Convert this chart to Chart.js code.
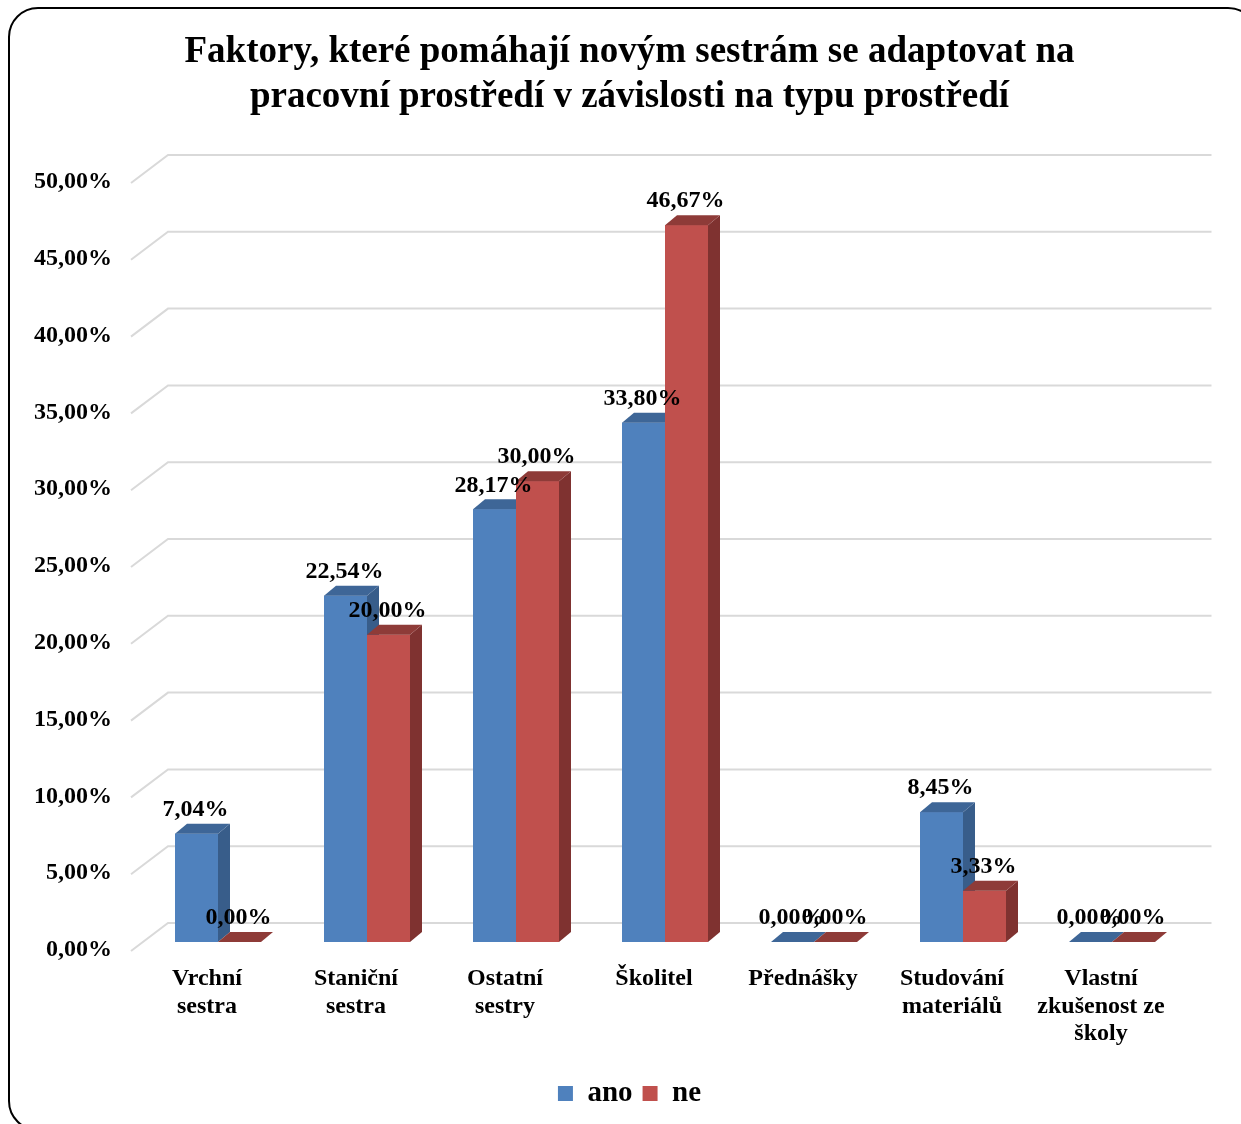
<!DOCTYPE html>
<html><head><meta charset="utf-8">
<script src="https://cdn.jsdelivr.net/npm/chart.js@4.4.1/dist/chart.umd.min.js"></script>
<style>
html,body{margin:0;padding:0;background:#fff;}
#wrap{position:relative;width:1241px;height:1124px;overflow:hidden;background:#fff;}
#frame{position:absolute;left:8px;top:7px;width:1250px;height:1124px;border:2px solid #000;border-radius:30px;box-sizing:border-box;}
#c{position:absolute;left:0;top:0;}
</style></head><body>
<div id="wrap"><div id="frame"></div><canvas id="c" width="1241" height="1124"></canvas></div>
<script>
const titleLines = ['Faktory, které pomáhají novým sestrám se adaptovat na', 'pracovní prostředí v závislosti na typu prostředí'];
const categories = [['Vrchní','sestra'],['Staniční','sestra'],['Ostatní','sestry'],['Školitel'],['Přednášky'],['Studování','materiálů'],['Vlastní','zkušenost ze','školy']];
const seriesNames = ['ano','ne'];
const anoValues = [7.04, 22.54, 28.17, 33.80, 0.00, 8.45, 0.00];
const neValues = [0.00, 20.00, 30.00, 46.67, 0.00, 3.33, 0.00];
const yTicks = [0, 5, 10, 15, 20, 25, 30, 35, 40, 45, 50];

const FONT = 'Liberation Serif, Times New Roman, serif';
const fmt = v => v.toFixed(2).replace('.', ',') + '%';

const faceColors = [
  {front:'#4F81BD', side:'#385D8A', top:'#3E6697'},
  {front:'#C0504D', side:'#7F3230', top:'#8E3B38'}
];
const DX = 12, DY = -10;

const gridPlugin = {
  id: 'grid3d',
  beforeDatasetsDraw(chart) {
    const ctx = chart.ctx, ys = chart.scales.y, a = chart.chartArea;
    ctx.save();
    ctx.strokeStyle = '#D9D9D9';
    ctx.lineWidth = 2;
    yTicks.forEach(v => {
      const y = ys.getPixelForValue(v);
      ctx.beginPath();
      ctx.moveTo(a.left - 12.5, y + 9);
      ctx.lineTo(a.left + 24.5, y - 19);
      ctx.lineTo(a.right + 25, y - 19);
      ctx.stroke();
    });
    ctx.restore();
  }
};

const barsPlugin = {
  id: 'bars3d',
  afterDatasetsDraw(chart) {
    const ctx = chart.ctx;
    const metas = [chart.getDatasetMeta(0), chart.getDatasetMeta(1)];
    ctx.save();
    for (let i = 0; i < categories.length; i++) {
      metas.forEach((m, di) => {
        const el = m.data[i];
        const p = el.getProps(['x','y','base','width'], true);
        const l = p.x - p.width/2, r = p.x + p.width/2, t = p.y, b = p.base;
        const c = faceColors[di];
        ctx.fillStyle = c.front;
        ctx.fillRect(l, t, r - l, b - t);
        ctx.fillStyle = c.side;
        ctx.beginPath();
        ctx.moveTo(r, t); ctx.lineTo(r + DX, t + DY); ctx.lineTo(r + DX, b + DY); ctx.lineTo(r, b);
        ctx.closePath(); ctx.fill();
        ctx.fillStyle = c.top;
        ctx.beginPath();
        ctx.moveTo(l, t); ctx.lineTo(l + DX, t + DY); ctx.lineTo(r + DX, t + DY); ctx.lineTo(r, t);
        ctx.closePath(); ctx.fill();
      });
    }
    ctx.fillStyle = '#000';
    ctx.font = 'bold 24px ' + FONT;
    ctx.textAlign = 'center';
    ctx.textBaseline = 'middle';
    metas.forEach((m, di) => {
      const vals = chart.data.datasets[di].data;
      m.data.forEach((el, i) => {
        const p = el.getProps(['x','y'], true);
        ctx.fillText(fmt(vals[i]), p.x - 1, p.y - 24);
      });
    });
    ctx.restore();
  }
};

new Chart(document.getElementById('c'), {
  type: 'bar',
  data: {
    labels: categories,
    datasets: [
      {label: seriesNames[0], data: anoValues, backgroundColor: faceColors[0].front, borderWidth: 0},
      {label: seriesNames[1], data: neValues, backgroundColor: faceColors[1].front, borderWidth: 0}
    ]
  },
  plugins: [gridPlugin, barsPlugin],
  options: {
    responsive: false,
    animation: false,
    devicePixelRatio: 1,
    layout: {padding: {left: 18, right: 0, top: 0, bottom: 6}},
    datasets: {bar: {barPercentage: 1, categoryPercentage: 86/149}},
    plugins: {
      tooltip: {enabled: false},
      title: {
        display: true,
        text: titleLines,
        color: '#000',
        font: {family: FONT, size: 37, weight: 'bold', lineHeight: 45/37},
        padding: {top: 29.5, bottom: 54.5}
      },
      legend: {
        position: 'bottom',
        labels: {
          color: '#000',
          boxWidth: 15, boxHeight: 15,
          padding: 10,
          font: {family: FONT, size: 29, weight: 'bold'}
        }
      }
    },
    scales: {
      x: {
        grid: {display: false, drawTicks: false},
        border: {display: false},
        ticks: {
          color: '#000', autoSkip: false, maxRotation: 0, minRotation: 0,
          padding: 23, labelOffset: -11,
          font: {family: FONT, size: 24, weight: 'bold', lineHeight: 1.15}
        },
        afterFit: s => { s.height = 127; }
      },
      y: {
        min: 0, max: 50,
        grid: {display: false, drawTicks: false},
        border: {display: false},
        afterBuildTicks: s => { s.ticks = yTicks.map(v => ({value: v})); },
        ticks: {
          color: '#000', padding: 31.5, labelOffset: 8,
          font: {family: FONT, size: 24, weight: 'bold'},
          callback: v => fmt(v)
        },
        afterFit: s => { s.width = 125.5; }
      },
      y2: {
        position: 'right',
        display: true,
        grid: {display: false, drawTicks: false},
        border: {display: false},
        ticks: {display: false},
        afterFit: s => { s.width = 54.5; }
      }
    }
  }
});
</script>
</body></html>
